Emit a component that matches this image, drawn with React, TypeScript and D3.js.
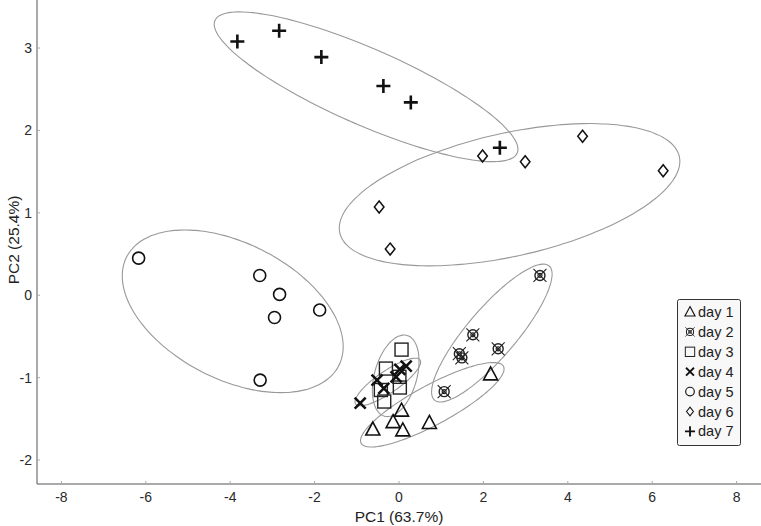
import React from "react";
import * as d3 from "d3";

// ---- data (PC1, PC2) ----
const day1 = [[2.17, -0.96], [0.06, -1.40], [-0.14, -1.54], [0.09, -1.64], [0.72, -1.55], [-0.62, -1.63]];
const day2 = [[3.34, 0.24], [1.75, -0.48], [2.35, -0.65], [1.43, -0.71], [1.49, -0.76], [1.07, -1.17]];
const day3 = [[0.06, -0.66], [-0.31, -0.89], [0.01, -0.99], [0.02, -1.12], [-0.43, -1.15], [-0.35, -1.29]];
const day4 = [[-0.92, -1.31], [-0.52, -1.03], [-0.36, -1.13], [-0.07, -0.99], [0.02, -0.90], [0.17, -0.86]];
const day5 = [[-6.17, 0.45], [-3.30, 0.24], [-2.83, 0.01], [-2.95, -0.27], [-1.88, -0.18], [-3.29, -1.03]];
const day6 = [[1.98, 1.69], [2.99, 1.62], [4.35, 1.93], [6.26, 1.51], [-0.47, 1.07], [-0.21, 0.56]];
const day7 = [[-3.83, 3.08], [-2.84, 3.21], [-1.84, 2.89], [-0.37, 2.54], [0.28, 2.34], [2.39, 1.79]];

const seriesNames = ["day 1", "day 2", "day 3", "day 4", "day 5", "day 6", "day 7"];
const seriesData = [day1, day2, day3, day4, day5, day6, day7];
const seriesShapes = ["triangle", "circlex", "square", "x", "circle", "diamond", "plus"];

// confidence ellipses in data units: [cx, cy, ux, uy, vx, vy] (conjugate semi-axis vectors)
const ellipse1 = [0.789, -1.330, 1.686, 0.467, 0.223, -0.211];
const ellipse2 = [2.20, -0.459, 1.358, 0.814, 0.441, -0.193];
const ellipse3 = [-0.078, -0.978, 0.267, 0.490, 0.484, -0.069];
const ellipse4 = [-0.265, -1.053, 0.763, 0.267, 0.147, -0.110];
const ellipse5 = [-3.94, -0.195, 2.512, -0.661, -0.735, -0.733];
const ellipse6 = [2.62, 1.22, 4.022, 0.464, 0.320, -0.728];
const ellipse7 = [-0.78, 2.53, 3.58, -0.805, -0.362, -0.422];
const ellipses = [ellipse1, ellipse2, ellipse3, ellipse4, ellipse5, ellipse6, ellipse7];

const xTicks = [-8, -6, -4, -2, 0, 2, 4, 6, 8];
const yTicks = [-2, -1, 0, 1, 2, 3];
const xTitle = "PC1 (63.7%)";
const yTitle = "PC2 (25.4%)";

const W = 761;
const H = 526;
const left = 37;
const bottom = 484;
const FONT = "'Liberation Sans', Arial, sans-serif";

function Marker({ shape, x, y, s = 1 }: { shape: string; x: number; y: number; s?: number }) {
  const t = `translate(${x},${y}) scale(${s})`;
  switch (shape) {
    case "triangle":
      return <path transform={t} d="M0,-7.5L7,5.5L-7,5.5Z" fill="none" stroke="#111" strokeWidth={1.6} strokeLinejoin="miter" />;
    case "square":
      return <rect transform={t} x={-6.5} y={-6.5} width={13} height={13} fill="none" stroke="#222" strokeWidth={1.4} />;
    case "circle":
      return <circle transform={t} r={6} fill="none" stroke="#111" strokeWidth={1.6} />;
    case "diamond":
      return <path transform={t} d="M0,-6L4.8,0L0,6L-4.8,0Z" fill="none" stroke="#111" strokeWidth={1.5} />;
    case "plus":
      return <path transform={t} d="M-7,0H7M0,-7V7" fill="none" stroke="#111" strokeWidth={2.6} />;
    case "x":
      return <path transform={t} d="M-5.5,-5.5L5.5,5.5M-5.5,5.5L5.5,-5.5" fill="none" stroke="#111" strokeWidth={2.6} />;
    case "circlex":
      return (
        <g transform={t} fill="none" stroke="#222">
          <circle r={5} strokeWidth={1.4} />
          <circle r={2} strokeWidth={1.2} />
          <path d="M-6.5,-6.5L6.5,6.5M-6.5,6.5L6.5,-6.5" strokeWidth={1.1} />
        </g>
      );
    default:
      return null;
  }
}

export default function App() {
  const x = d3.scaleLinear().domain([-8.578, 8.578]).range([left, W]);
  const y = d3.scaleLinear().domain([-2.291, 3.583]).range([bottom, 0]);

  const ellipsePath = (e: number[]) => {
    const [cx, cy, ux, uy, vx, vy] = e;
    const pts = d3.range(0, 361, 3).map((deg) => {
      const a = (deg * Math.PI) / 180;
      return [x(cx + Math.cos(a) * ux + Math.sin(a) * vx), y(cy + Math.cos(a) * uy + Math.sin(a) * vy)] as [number, number];
    });
    return d3.line().curve(d3.curveCardinalClosed)(pts.slice(0, -1)) || "";
  };

  return (
    <svg width={W} height={H} style={{ position: "absolute", left: 0, top: 0, background: "#fff" }} fontFamily={FONT}>
      <rect x={0} y={0} width={W} height={H} fill="#fff" />
      {/* axes */}
      <line x1={left} x2={left} y1={0} y2={bottom} stroke="#555" strokeWidth={1} />
      <line x1={left} x2={W} y1={bottom} y2={bottom} stroke="#555" strokeWidth={1} />
      {xTicks.map((t) => (
        <g key={"xt" + t}>
          <line x1={x(t)} x2={x(t)} y1={bottom} y2={bottom - 3} stroke="#aaa" />
          <text x={x(t)} y={502} textAnchor="middle" fontSize={14} fill="#2a2a2a">
            {t}
          </text>
        </g>
      ))}
      {yTicks.map((t) => (
        <g key={"yt" + t}>
          <line x1={left} x2={left + 3} y1={y(t)} y2={y(t)} stroke="#aaa" />
          <text x={32} y={y(t) + 5} textAnchor="end" fontSize={14} fill="#2a2a2a">
            {t}
          </text>
        </g>
      ))}
      <text x={x(0)} y={522} textAnchor="middle" fontSize={15.5} fill="#222">
        {xTitle}
      </text>
      <text transform={`translate(18.5,240) rotate(-90)`} textAnchor="middle" fontSize={15.5} fill="#222">
        {yTitle}
      </text>

      {/* ellipses */}
      {ellipses.map((e, i) => (
        <path key={"el" + i} d={ellipsePath(e)} fill="none" stroke="#999" strokeWidth={1.1} />
      ))}

      {/* points */}
      {seriesData.map((pts, i) =>
        pts.map((p, j) => <Marker key={`p${i}-${j}`} shape={seriesShapes[i]} x={x(p[0])} y={y(p[1])} />)
      )}

      {/* legend */}
      <rect x={677.5} y={299.5} width={63} height={146} rx={2} fill="#f8f8f8" stroke="#333" strokeWidth={1} />
      {seriesNames.map((name, i) => (
        <g key={"lg" + i}>
          <Marker shape={seriesShapes[i]} x={690} y={312 + i * 19.9} s={0.72} />
          <text x={698} y={312 + i * 19.9 + 5} fontSize={14.5} fill="#222">
            {name}
          </text>
        </g>
      ))}
    </svg>
  );
}
